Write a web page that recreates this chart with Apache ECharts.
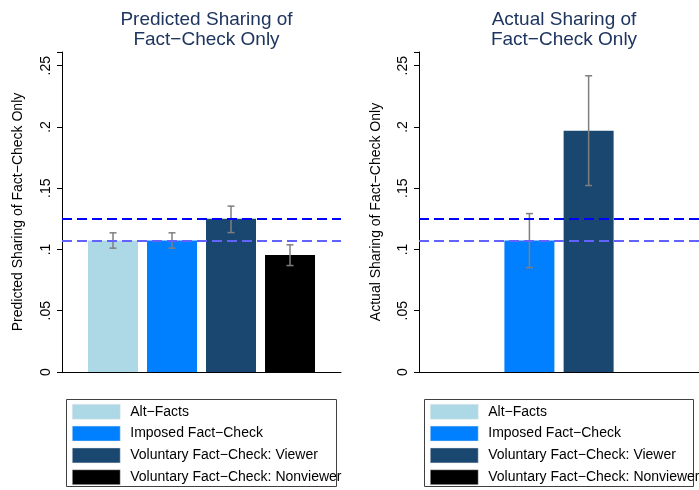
<!DOCTYPE html>
<html>
<head>
<meta charset="utf-8">
<script src="https://cdn.jsdelivr.net/npm/echarts@6/dist/echarts.min.js"></script>
<style>
html,body{margin:0;padding:0;background:#fff;}
#c{width:699px;height:490px;}
</style>
</head>
<body>
<div id="c"></div>
<script>
// ---- data ----
const groups = ['Alt\u2212Facts', 'Imposed Fact\u2212Check', 'Voluntary Fact\u2212Check: Viewer', 'Voluntary Fact\u2212Check: Nonviewer'];
const groupColors = ['#add8e6', '#0080ff', '#1a476f', '#000000'];
const predicted   = [0.1073, 0.1073, 0.1250, 0.0956];
const predictedLo = [0.1011, 0.1011, 0.1138, 0.0869];
const predictedHi = [0.1136, 0.1136, 0.1354, 0.1038];
const actual   = [null, 0.1073, 0.1969, null];
const actualLo = [null, 0.0852, 0.1522, null];
const actualHi = [null, 0.1293, 0.2418, null];
const refLines = [0.1248, 0.1073];
const yTicks = [0, 0.05, 0.1, 0.15, 0.2, 0.25];
const yTickLabels = ['0', '.05', '.1', '.15', '.2', '.25'];
const panelTitles = ['Predicted Sharing of\nFact\u2212Check Only', 'Actual Sharing of\nFact\u2212Check Only'];
const yTitles = ['Predicted Sharing of Fact\u2212Check Only', 'Actual Sharing of Fact\u2212Check Only'];

const FONT = '"Liberation Sans", Arial, Helvetica, sans-serif';
const chart = echarts.init(document.getElementById('c'), null, {renderer: 'canvas'});

function yLabel(v) {
  for (let i = 0; i < yTicks.length; i++) if (Math.abs(yTicks[i] - v) < 1e-9) return yTickLabels[i];
  return '';
}

const grids = [
  {left: 62, top: 52, width: 279, height: 320},
  {left: 419, top: 52, width: 280, height: 320}
];

const xAxes = grids.map((g, i) => ({
  type: 'value', gridIndex: i, min: 0.1356, max: 4.864,
  axisLine: {show: true, onZero: false, lineStyle: {color: '#000', width: 1}},
  axisTick: {show: false}, axisLabel: {show: false}, splitLine: {show: false}
}));

const yAxes = grids.map((g, i) => ({
  type: 'value', gridIndex: i, min: 0, max: 0.2612, interval: 0.05,
  name: yTitles[i], nameLocation: 'middle', nameGap: i === 0 ? 37 : 36,
  nameTextStyle: {fontFamily: FONT, fontSize: 14, color: '#000'},
  axisLine: {show: true, lineStyle: {color: '#000', width: 1}},
  axisTick: {show: true, length: 5, lineStyle: {color: '#000', width: 1}},
  axisLabel: {show: true, rotate: 90, margin: 9, fontFamily: FONT, fontSize: 14, color: '#000',
              formatter: yLabel, showMaxLabel: true},
  splitLine: {show: false}
}));

const series = [];
const panels = [
  {vals: predicted, lo: predictedLo, hi: predictedHi},
  {vals: actual, lo: actualLo, hi: actualHi}
];

panels.forEach((p, pi) => {
  // reference dashed lines (behind bars)
  series.push({
    type: 'line', name: 'ref' + pi, xAxisIndex: pi, yAxisIndex: pi, data: [], z: 1,
    silent: true,
    markLine: {
      silent: true, symbol: ['none', 'none'], label: {show: false}, animation: false, precision: 6,
      data: [
        {yAxis: refLines[0], lineStyle: {color: '#0000ff', type: [10, 5], width: 2}},
        {yAxis: refLines[1], lineStyle: {color: '#6262ff', type: [10, 5], width: 2}}
      ]
    }
  });
  groups.forEach((gName, gi) => {
    series.push({
      type: 'bar', name: gName, xAxisIndex: pi, yAxisIndex: pi, stack: 'panel' + pi,
      barWidth: 50, z: 2,
      itemStyle: {color: groupColors[gi]},
      data: p.vals[gi] == null ? [] : [[gi + 1, p.vals[gi]]]
    });
  });
  const errData = [];
  p.vals.forEach((v, gi) => { if (v != null) errData.push([gi + 1, p.lo[gi], p.hi[gi]]); });
  series.push({
    type: 'custom', name: 'err' + pi, xAxisIndex: pi, yAxisIndex: pi, z: 3, silent: true,
    data: errData,
    encode: {x: 0, y: [1, 2]},
    renderItem: function (params, api) {
      const x = api.value(0);
      const a = api.coord([x, api.value(1)]);
      const b = api.coord([x, api.value(2)]);
      const hw = 3.5;
      const st = {stroke: '#7f7f7f', lineWidth: 1.5};
      return {
        type: 'group',
        children: [
          {type: 'line', shape: {x1: a[0], y1: a[1], x2: b[0], y2: b[1]}, style: st},
          {type: 'line', shape: {x1: a[0] - hw, y1: a[1], x2: a[0] + hw, y2: a[1]}, style: st},
          {type: 'line', shape: {x1: b[0] - hw, y1: b[1], x2: b[0] + hw, y2: b[1]}, style: st}
        ]
      };
    }
  });
});

const titles = panelTitles.map((t, i) => ({
  text: t, left: grids[i].left + grids[i].width / 2, top: 5, textAlign: 'center',
  textStyle: {fontFamily: FONT, fontSize: 19, fontWeight: 'normal', color: '#1e3560', lineHeight: 20}
}));

const legends = [72, 430].map(lx => ({
  data: groups, orient: 'vertical', left: lx, top: 404, padding: 0,
  itemWidth: 48, itemHeight: 15, itemGap: 6.33, icon: 'rect',
  selectedMode: false,
  itemStyle: {borderColor: '#e8e8e8', borderWidth: 0.5},
  textStyle: {fontFamily: FONT, fontSize: 14, color: '#000', padding: [0, 0, 0, 5]}
}));

chart.setOption({
  animation: false,
  backgroundColor: '#ffffff',
  title: titles,
  grid: grids,
  xAxis: xAxes,
  yAxis: yAxes,
  legend: legends,
  graphic: [
    {type: 'rect', shape: {x: 66.5, y: 399.5, width: 270, height: 87}, style: {fill: 'none', stroke: '#404040', lineWidth: 1}, z: 0},
    {type: 'rect', shape: {x: 424.5, y: 399.5, width: 269, height: 87}, style: {fill: 'none', stroke: '#404040', lineWidth: 1}, z: 0}
  ],
  series: series
});
</script>
</body>
</html>
